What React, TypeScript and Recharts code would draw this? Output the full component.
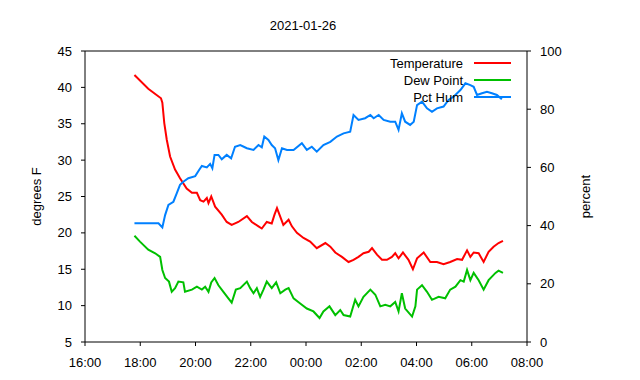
import React from 'react';
import { LineChart, Line, XAxis, YAxis, Legend } from 'recharts';

// hours since 16:00 on the x axis
const xTickHours = [0, 2, 4, 6, 8, 10, 12, 14, 16];
const xTickLabels = ['16:00', '18:00', '20:00', '22:00', '00:00', '02:00', '04:00', '06:00', '08:00'];
const xMinorHours = [1, 3, 5, 7, 9, 11, 13, 15];
const leftTicks = [5, 10, 15, 20, 25, 30, 35, 40, 45];
const rightTicks = [0, 20, 40, 60, 80, 100];
const seriesOrder = ['Temperature', 'Dew Point', 'Pct Hum'];

const temperature: [number, number][] = [
  [1.79, 41.7], [2.29, 39.8], [2.75, 38.5], [2.8, 37.9], [2.87, 35.1], [2.96, 32.8], [3.08, 30.5],
  [3.26, 28.7], [3.44, 27.5], [3.68, 26.1], [3.87, 25.5], [4.05, 25.5], [4.17, 24.5], [4.29, 24.3],
  [4.41, 24.8], [4.47, 24.1], [4.57, 25.0], [4.71, 23.6], [4.95, 22.5], [5.13, 21.5], [5.31, 21.1],
  [5.55, 21.5], [5.86, 22.3], [6.04, 21.5], [6.28, 20.9], [6.4, 20.6], [6.58, 21.5], [6.76, 21.3],
  [6.86, 22.5], [6.95, 23.4], [7.07, 22.2], [7.18, 21.1], [7.37, 21.8], [7.49, 20.9], [7.67, 20.0],
  [7.91, 19.3], [8.15, 18.8], [8.39, 17.9], [8.7, 18.6], [8.88, 18.1], [9.06, 17.3], [9.3, 16.7],
  [9.54, 16.0], [9.72, 16.3], [9.9, 16.7], [10.08, 17.2], [10.27, 17.4], [10.39, 17.9], [10.57, 17.0],
  [10.75, 16.3], [10.93, 16.3], [11.11, 16.7], [11.23, 17.2], [11.35, 16.5], [11.51, 17.3], [11.71, 16.3],
  [11.87, 15.0], [12.02, 16.5], [12.26, 17.3], [12.5, 16.0], [12.74, 16.0], [12.98, 15.7], [13.22, 16.0],
  [13.47, 16.4], [13.65, 16.3], [13.83, 17.6], [13.95, 16.7], [14.07, 17.3], [14.25, 17.2], [14.43, 16.0],
  [14.61, 17.4], [14.79, 18.1], [14.97, 18.6], [15.13, 18.9],
];

const dewPoint: [number, number][] = [
  [1.79, 19.6], [1.99, 18.8], [2.29, 17.7], [2.54, 17.2], [2.72, 16.7], [2.8, 14.9], [2.9, 13.8],
  [3.04, 13.3], [3.14, 11.9], [3.26, 12.4], [3.38, 13.3], [3.56, 13.2], [3.62, 11.9], [3.87, 12.2],
  [4.05, 12.6], [4.23, 12.2], [4.35, 12.6], [4.47, 11.9], [4.57, 13.2], [4.69, 13.8], [4.83, 12.8],
  [5.01, 11.9], [5.19, 11.0], [5.31, 10.4], [5.46, 12.2], [5.62, 12.4], [5.86, 13.3], [5.98, 12.4],
  [6.1, 11.7], [6.22, 12.4], [6.34, 11.2], [6.46, 12.2], [6.58, 13.3], [6.76, 12.4], [6.92, 13.2],
  [7.07, 11.7], [7.25, 12.2], [7.37, 12.4], [7.55, 11.0], [7.79, 10.3], [8.03, 9.6], [8.27, 9.2],
  [8.49, 8.3], [8.63, 9.2], [8.85, 9.9], [9.06, 8.7], [9.24, 9.4], [9.36, 8.7], [9.6, 8.5],
  [9.78, 10.8], [9.9, 9.9], [10.08, 11.2], [10.33, 12.2], [10.51, 11.5], [10.69, 9.9], [10.87, 10.1],
  [11.05, 9.9], [11.23, 10.5], [11.35, 9.2], [11.47, 11.7], [11.59, 9.6], [11.84, 8.5], [11.96, 9.9],
  [12.02, 12.2], [12.2, 12.8], [12.38, 11.9], [12.56, 10.8], [12.8, 11.2], [13.04, 11.0], [13.22, 12.2],
  [13.41, 12.6], [13.59, 13.5], [13.71, 13.3], [13.83, 14.9], [13.95, 13.5], [14.07, 14.5], [14.25, 13.5],
  [14.43, 12.2], [14.61, 13.5], [14.86, 14.5], [14.97, 14.8], [15.13, 14.5],
];

const pctHum: [number, number][] = [
  [1.79, 40.8], [2.17, 40.8], [2.66, 40.8], [2.8, 39.4], [2.9, 43.6], [3.02, 47.1], [3.2, 48.2],
  [3.32, 51.1], [3.44, 54.0], [3.56, 55.1], [3.74, 56.3], [3.99, 57.0], [4.13, 59.1], [4.23, 60.5],
  [4.41, 60.0], [4.53, 61.2], [4.61, 59.7], [4.69, 64.3], [4.83, 64.3], [4.95, 62.8], [5.13, 64.3],
  [5.29, 63.1], [5.43, 67.1], [5.62, 67.7], [5.86, 66.6], [6.1, 66.0], [6.28, 67.7], [6.4, 66.9],
  [6.49, 70.6], [6.64, 69.4], [6.76, 67.7], [6.88, 66.6], [7.0, 62.5], [7.13, 66.6], [7.31, 66.0],
  [7.55, 66.0], [7.85, 68.3], [8.03, 66.0], [8.21, 67.1], [8.39, 65.4], [8.63, 67.7], [8.88, 68.8],
  [9.12, 70.6], [9.36, 71.7], [9.6, 72.3], [9.72, 78.0], [9.9, 76.3], [10.14, 76.9], [10.33, 78.0],
  [10.45, 76.9], [10.63, 78.0], [10.81, 76.3], [11.05, 75.7], [11.23, 75.7], [11.35, 72.9], [11.47, 78.6],
  [11.59, 75.7], [11.77, 74.6], [11.9, 75.7], [12.02, 81.4], [12.2, 82.6], [12.38, 80.3], [12.56, 79.1],
  [12.74, 80.3], [12.98, 80.9], [13.16, 83.2], [13.34, 84.3], [13.59, 86.6], [13.77, 88.9], [13.95, 88.3],
  [14.07, 87.7], [14.19, 84.9], [14.37, 85.5], [14.55, 86.0], [14.73, 85.5], [14.91, 84.9], [15.09, 83.4],
];

const toRows = (pairs: [number, number][]) => pairs.map(([t, v]) => ({ t, v }));

const FONT = '"Liberation Sans", Arial, sans-serif';
const tickStyle = { fontSize: 13, fill: '#000', fontFamily: FONT };

const renderLegend = (props: any) => {
  const payload = [...(props.payload || [])].sort(
    (a: any, b: any) => seriesOrder.indexOf(a.value) - seriesOrder.indexOf(b.value)
  );
  return (
    <svg width={640} height={380} style={{ position: 'absolute', left: 0, top: 0, pointerEvents: 'none' }}>
      {payload.map((p: any, i: number) => {
        const y = 63 + i * 17;
        return (
          <g key={i}>
            <text x={463} y={y} textAnchor="end" dominantBaseline="central" fontSize={13} fontFamily={FONT} fill="#000">
              {p.value}
            </text>
            <line x1={474} x2={511} y1={y} y2={y} stroke={p.color} strokeWidth={2} />
          </g>
        );
      })}
    </svg>
  );
};

export default function App() {
  return (
    <div style={{ position: 'absolute', left: 0, top: 0, width: 640, height: 380, background: '#fff' }}>
      <LineChart width={640} height={380} margin={{ top: 50, right: 0, bottom: 0, left: 0 }}>
        <XAxis
          xAxisId="top"
          orientation="top"
          type="number"
          dataKey="t"
          domain={[0, 16]}
          ticks={xTickHours}
          height={1}
          tick={false}
          tickLine={false}
          axisLine={{ stroke: '#000' }}
          label={{ value: '2021-01-26', position: 'top', offset: 20, dx: -3, style: { fontSize: 13, fill: '#000', fontFamily: FONT } }}
        />
        <XAxis
          xAxisId="minor"
          type="number"
          dataKey="t"
          domain={[0, 16]}
          ticks={xMinorHours}
          height={0}
          tickSize={2}
          tickFormatter={() => ''}
          axisLine={false}
          tickLine={{ stroke: '#000' }}
        />
        <XAxis
          xAxisId="bottom"
          type="number"
          dataKey="t"
          domain={[0, 16]}
          ticks={xTickHours}
          tickFormatter={(h: number) => xTickLabels[xTickHours.indexOf(h)]}
          height={38}
          tickSize={4}
          tickMargin={12}
          tick={tickStyle}
          axisLine={{ stroke: '#000' }}
          tickLine={{ stroke: '#000' }}
        />
        <YAxis
          yAxisId="left"
          type="number"
          domain={[5, 45]}
          ticks={leftTicks}
          width={85}
          tickSize={4}
          tickMargin={9}
          tick={tickStyle}
          axisLine={{ stroke: '#000' }}
          tickLine={{ stroke: '#000' }}
          label={{ value: 'degrees F', angle: -90, position: 'center', dx: -6, style: { fontSize: 13, fill: '#000', fontFamily: FONT } }}
        />
        <YAxis
          yAxisId="right"
          orientation="right"
          type="number"
          domain={[0, 100]}
          ticks={rightTicks}
          width={113}
          tickSize={4}
          tickMargin={9}
          tick={tickStyle}
          axisLine={{ stroke: '#000' }}
          tickLine={{ stroke: '#000' }}
          label={{ value: 'percent', angle: -90, position: 'center', dx: 2, style: { fontSize: 13, fill: '#000', fontFamily: FONT } }}
        />
        <Legend
          layout="horizontal"
          verticalAlign="middle"
          align="center"
          content={renderLegend}
          wrapperStyle={{ position: 'absolute', left: 0, top: 0, width: 640, height: 380, pointerEvents: 'none' }}
        />
        <Line
          data={toRows(temperature)}
          dataKey="v"
          name="Temperature"
          xAxisId="bottom"
          yAxisId="left"
          stroke="#ff0000"
          strokeWidth={2}
          dot={false}
          type="linear"
          isAnimationActive={false}
        />
        <Line
          data={toRows(dewPoint)}
          dataKey="v"
          name="Dew Point"
          xAxisId="bottom"
          yAxisId="left"
          stroke="#00c000"
          strokeWidth={2}
          dot={false}
          type="linear"
          isAnimationActive={false}
        />
        <Line
          data={toRows(pctHum)}
          dataKey="v"
          name="Pct Hum"
          xAxisId="bottom"
          yAxisId="right"
          stroke="#0080ff"
          strokeWidth={2}
          dot={false}
          type="linear"
          isAnimationActive={false}
        />
      </LineChart>
    </div>
  );
}
